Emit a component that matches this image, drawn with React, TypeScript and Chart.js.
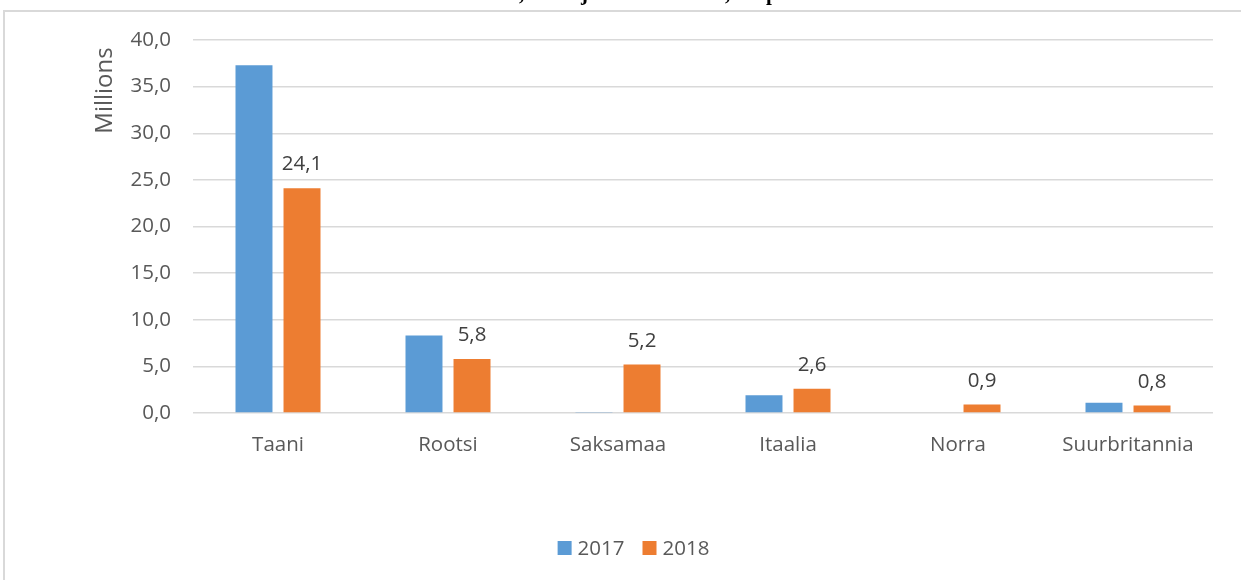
import React, { useEffect, useRef } from "react";
import { Chart, registerables } from "chart.js";

Chart.register(...registerables);

const categories = ["Taani", "Rootsi", "Saksamaa", "Itaalia", "Norra", "Suurbritannia"];
const values2017 = [37.3, 8.3, 0.05, 1.9, 0, 1.1];
const values2018 = [24.1, 5.8, 5.2, 2.6, 0.9, 0.8];
const seriesLabels = ["2017", "2018"];
const seriesColors = ["#5B9BD5", "#ED7D31"];
const yTicks = [0, 5, 10, 15, 20, 25, 30, 35, 40];
const yTitle = "Millions";
// descenders of the cropped title line above the chart
const titleFragments: [string, number][] = [[",", 519], ["j", 581], [",", 725], ["p", 766]];

const FONT = "'Open Sans', 'Liberation Sans', sans-serif";
const FS = 20.5;
const fmt = (v: number) => v.toFixed(1).replace(".", ",");

const labelPlugin = {
  id: "barLabels",
  afterDatasetsDraw(chart: any) {
    const ctx = chart.ctx;
    const meta = chart.getDatasetMeta(1);
    const data = chart.data.datasets[1].data as number[];
    ctx.save();
    ctx.font = `${FS}px ${FONT}`;
    ctx.fillStyle = "#404040";
    ctx.textAlign = "center";
    ctx.textBaseline = "alphabetic";
    meta.data.forEach((bar: any, i: number) => {
      ctx.fillText(fmt(data[i]), bar.x, bar.y - 18);
    });
    ctx.restore();
  },
};

const extrasPlugin = {
  id: "extras",
  afterDraw(chart: any) {
    const ctx = chart.ctx;
    ctx.save();
    // cropped title fragments
    ctx.font = "bold 21px 'Liberation Serif', serif";
    ctx.fillStyle = "#000";
    ctx.textAlign = "left";
    ctx.textBaseline = "alphabetic";
    titleFragments.forEach(([t, x]) => ctx.fillText(t, x, -0.5));
    // y-axis title
    ctx.font = `24px ${FONT}`;
    ctx.fillStyle = "#595959";
    ctx.save();
    ctx.translate(105, 90.5);
    ctx.rotate(-Math.PI / 2);
    ctx.textAlign = "center";
    ctx.textBaseline = "middle";
    ctx.fillText(yTitle, 0, 0);
    ctx.restore();
    // legend
    ctx.font = `${FS}px ${FONT}`;
    const box = 14;
    const gapBoxText = 6;
    const gapItems = 18;
    const widths = chart.data.datasets.map((d: any) => ctx.measureText(d.label).width);
    const total =
      widths.reduce((a: number, w: number) => a + box + gapBoxText + w, 0) + gapItems * (widths.length - 1);
    let x = 633.5 - total / 2;
    const cy = 548;
    ctx.textAlign = "left";
    ctx.textBaseline = "middle";
    chart.data.datasets.forEach((d: any, i: number) => {
      ctx.fillStyle = d.backgroundColor;
      ctx.fillRect(x, cy - box / 2, box, box);
      x += box + gapBoxText;
      ctx.fillStyle = "#595959";
      ctx.fillText(d.label, x, cy + 1);
      x += widths[i] + gapItems;
    });
    ctx.restore();
  },
};

export default function App() {
  const ref = useRef<HTMLCanvasElement | null>(null);
  useEffect(() => {
    if (!ref.current) return;
    const chart = new Chart(ref.current, {
      type: "bar",
      data: {
        labels: categories,
        datasets: [
          {
            label: seriesLabels[0],
            data: values2017,
            backgroundColor: seriesColors[0],
            categoryPercentage: 0.565,
            barPercentage: 0.77,
          },
          {
            label: seriesLabels[1],
            data: values2018,
            backgroundColor: seriesColors[1],
            categoryPercentage: 0.565,
            barPercentage: 0.77,
          },
        ],
      },
      options: {
        responsive: false,
        animation: false,
        layout: { padding: { left: 0, right: 28, top: 40, bottom: 0 } },
        plugins: {
          legend: { display: false },
          tooltip: { enabled: false },
        },
        scales: {
          x: {
            grid: { display: false, drawTicks: false },
            border: { display: false },
            ticks: { color: "#595959", font: { family: FONT, size: FS }, padding: 20 },
            afterFit: (s: any) => {
              s.height = 167;
            },
          },
          y: {
            min: 0,
            max: 40,
            afterBuildTicks: (s: any) => {
              s.ticks = yTicks.map((v) => ({ value: v }));
            },
            grid: { color: "#d9d9d9", lineWidth: 1.5, drawTicks: false },
            border: { display: false },
            ticks: {
              color: "#595959",
              font: { family: FONT, size: FS },
              padding: 22,
              callback: (v: any) => fmt(Number(v)),
            },
            afterFit: (s: any) => {
              s.width = 193;
            },
          },
        },
      },
      plugins: [labelPlugin, extrasPlugin],
    });
    return () => chart.destroy();
  }, []);

  return (
    <div style={{ position: "absolute", left: 0, top: 0, width: 1241, height: 580, background: "#fff" }}>
      <div
        style={{
          position: "absolute",
          left: 3,
          top: 10,
          width: 1245,
          height: 580,
          borderTop: "2px solid #d9d9d9",
          borderLeft: "2px solid #d9d9d9",
        }}
      />
      <canvas ref={ref} width={1241} height={580} style={{ position: "absolute", left: 0, top: 0 }} />
    </div>
  );
}
